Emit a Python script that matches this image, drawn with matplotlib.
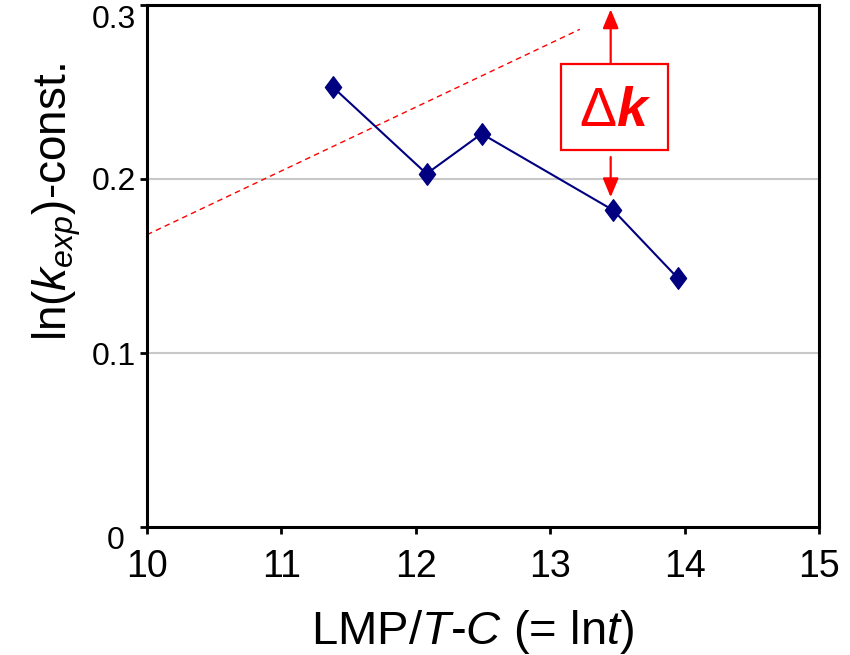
import numpy as np
import matplotlib
matplotlib.use('Agg')
import matplotlib.pyplot as plt
from matplotlib.patches import Rectangle
from matplotlib.path import Path

plt.rcParams['font.family'] = ['Liberation Sans', 'DejaVu Sans']
plt.rcParams['mathtext.fontset'] = 'custom'
plt.rcParams['mathtext.rm'] = 'Liberation Sans'
plt.rcParams['mathtext.it'] = 'Liberation Sans:italic'
plt.rcParams['mathtext.bf'] = 'Liberation Sans:bold'
plt.rcParams['mathtext.bfit'] = 'Liberation Sans:bold:italic'

# data
lmp = [11.38, 12.08, 12.49, 13.47, 13.95]
lnk = [0.253, 0.203, 0.226, 0.182, 0.143]

# dashed reference line
ref_x = [10.0, 13.22]
ref_y = [0.168, 0.286]

xticks = [10, 11, 12, 13, 14, 15]
yticks = [0, 0.1, 0.2, 0.3]
ytick_labels = ['0', '0.1', '0.2', '0.3']

# delta-k annotation
dk_x = 13.45
box_x = [13.08, 13.88]
box_y = [0.2167, 0.2661]

diamond = Path([(0, 1), (0.75, 0), (0, -1), (-0.75, 0), (0, 1)],
               [Path.MOVETO, Path.LINETO, Path.LINETO, Path.LINETO, Path.CLOSEPOLY])

fig = plt.figure(figsize=(8.5, 6.55), dpi=100)
ax = fig.add_axes([0.173, 0.1954, 0.7905, 0.797])

ax.set_xlim(10, 15)
ax.set_ylim(0, 0.3)

for g in [0.1, 0.2]:
    ax.axhline(g, color='#c8c8c8', linewidth=1.5, zorder=0)

ax.plot(ref_x, ref_y, color='red', linestyle=(0, (4, 3)), linewidth=1.0, zorder=2)
ax.plot(lmp, lnk, color='#000080', linewidth=1.5, marker=diamond,
        markersize=15.5, markerfacecolor='#000080', markeredgecolor='#000080', zorder=3)

# box with text
ax.add_patch(Rectangle((box_x[0], box_y[0]), box_x[1] - box_x[0], box_y[1] - box_y[0],
                       facecolor='white', edgecolor='red', linewidth=1.6, zorder=4))
ax.text((box_x[0] + box_x[1]) / 2, 0.2385, r'$\Delta\mathbfit{k}$',
        color='red', fontsize=40, ha='center', va='center', zorder=5)

arrow_kw = dict(arrowstyle='-|>,head_length=1.15,head_width=0.48', color='red',
                linewidth=1.6, shrinkA=0, shrinkB=0)
ax.annotate('', xy=(dk_x, 0.2975), xytext=(dk_x, box_y[1]), arrowprops=arrow_kw, zorder=5)
ax.annotate('', xy=(dk_x, 0.1895), xytext=(dk_x, 0.2126), arrowprops=arrow_kw, zorder=5)

ax.set_xticks(xticks)
ax.set_yticks(yticks)
# the "0" label is drawn separately, further left, like in the original
ax.set_yticklabels([''] + ytick_labels[1:])
ax.tick_params(axis='x', direction='out', length=5, width=2, labelsize=27, pad=11)
ax.tick_params(axis='y', direction='out', length=5, width=2, labelsize=23, pad=3)

ylabs = ax.get_yticklabels()
ylabs[-1].set_verticalalignment('top')

ax.annotate(ytick_labels[0], xy=(0, yticks[0]), xycoords=('axes fraction', 'data'),
            xytext=(-16, -10), textcoords='offset points', ha='right', va='center',
            fontsize=23)

for s in ax.spines.values():
    s.set_linewidth(2.2)
    s.set_color('black')

ax.set_xlabel(r'LMP/$\mathit{T}$-$\mathit{C}$ (= ln$\mathit{t}$)', fontsize=34)
ax.xaxis.set_label_coords(0.485, -0.155)
ax.set_ylabel(r'ln($\mathit{k}_{\mathit{exp}}$)-const.', fontsize=33)
ax.yaxis.set_label_coords(-0.095, 0.623)

fig.savefig('out.png', dpi=100)
